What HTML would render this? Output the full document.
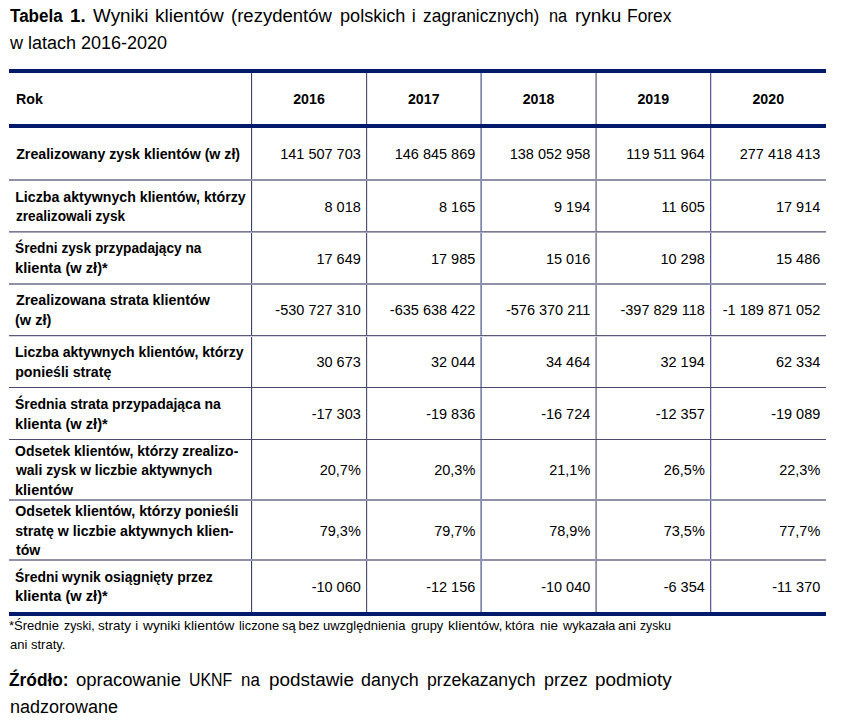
<!DOCTYPE html>
<html><head><meta charset="utf-8"><style>
html,body{margin:0;padding:0;background:#fff;width:842px;height:723px;overflow:hidden}
body{position:relative;font-family:"Liberation Sans",sans-serif;color:#000}
.t div{position:absolute;font-size:14.2px;line-height:20px;white-space:nowrap}
.ln{position:absolute}
.title{position:absolute;left:10px;width:662px;font-size:18px;line-height:20px;white-space:nowrap;text-align:justify;text-align-last:justify}
.fn{position:absolute;left:10px;width:661px;font-size:13px;line-height:20px;white-space:nowrap}
</style></head><body>
<span style="position:absolute;left:9.7px;top:6px;font-size:18px;line-height:20px;white-space:nowrap;font-weight:bold;transform:scaleX(0.9464);transform-origin:0 0;">Tabela</span><span style="position:absolute;left:70.26px;top:6px;font-size:18px;line-height:20px;white-space:nowrap;font-weight:bold;transform:scaleX(1.0385);transform-origin:0 0;">1.</span><span style="position:absolute;left:93.3px;top:6px;font-size:18px;line-height:20px;white-space:nowrap;transform:scaleX(1.0481);transform-origin:0 0;">Wyniki</span><span style="position:absolute;left:155.24px;top:6px;font-size:18px;line-height:20px;white-space:nowrap;transform:scaleX(1.0578);transform-origin:0 0;">klientów</span><span style="position:absolute;left:231.07px;top:6px;font-size:18px;line-height:20px;white-space:nowrap;transform:scaleX(1.0289);transform-origin:0 0;">(rezydentów</span><span style="position:absolute;left:339.69px;top:6px;font-size:18px;line-height:20px;white-space:nowrap;transform:scaleX(1.0063);transform-origin:0 0;">polskich</span><span style="position:absolute;left:411.7px;top:6px;font-size:18px;line-height:20px;white-space:nowrap;">i</span><span style="position:absolute;left:423.04px;top:6px;font-size:18px;line-height:20px;white-space:nowrap;transform:scaleX(0.9605);transform-origin:0 0;">zagranicznych)</span><span style="position:absolute;left:548.79px;top:6px;font-size:18px;line-height:20px;white-space:nowrap;transform:scaleX(0.9105);transform-origin:0 0;">na</span><span style="position:absolute;left:574.65px;top:6px;font-size:18px;line-height:20px;white-space:nowrap;transform:scaleX(1.0524);transform-origin:0 0;">rynku</span><span style="position:absolute;left:627.43px;top:6px;font-size:18px;line-height:20px;white-space:nowrap;transform:scaleX(0.9667);transform-origin:0 0;">Forex</span>
<div class="title" style="top:33px;text-align-last:left">w latach 2016-2020</div>
<div class="ln" style="left:251px;width:1px;top:73px;height:539px;background:#40446a"></div><div class="ln" style="left:252px;width:1px;top:73px;height:539px;background:#e4e6f2"></div><div class="ln" style="left:366px;width:1px;top:73px;height:539px;background:#4f526f"></div><div class="ln" style="left:367px;width:1px;top:73px;height:539px;background:#e0e2ee"></div><div class="ln" style="left:480px;width:1px;top:73px;height:539px;background:#a3a9c9"></div><div class="ln" style="left:481px;width:1px;top:73px;height:539px;background:#7b86a8"></div><div class="ln" style="left:595px;width:1px;top:73px;height:539px;background:#a8aab9"></div><div class="ln" style="left:596px;width:1px;top:73px;height:539px;background:#8e90a2"></div><div class="ln" style="left:710px;width:1px;top:73px;height:539px;background:#5f5f88"></div><div class="ln" style="left:711px;width:1px;top:73px;height:539px;background:#cfd0f2"></div><div class="ln" style="left:9px;width:817px;top:179px;height:2px;background:#9090aa"></div><div class="ln" style="left:9px;width:817px;top:231px;height:1px;background:#7a7a98"></div><div class="ln" style="left:9px;width:817px;top:232px;height:1px;background:#a8a8c0"></div><div class="ln" style="left:9px;width:817px;top:283px;height:2px;background:#9090aa"></div><div class="ln" style="left:9px;width:817px;top:335px;height:1px;background:#5a5a7c"></div><div class="ln" style="left:9px;width:817px;top:336px;height:1px;background:#d4d4e2"></div><div class="ln" style="left:9px;width:817px;top:387px;height:1px;background:#48486c"></div><div class="ln" style="left:9px;width:817px;top:439px;height:1px;background:#4c4c6e"></div><div class="ln" style="left:9px;width:817px;top:499px;height:2px;background:#9090aa"></div><div class="ln" style="left:9px;width:817px;top:559px;height:2px;background:#9090aa"></div><div class="ln" style="left:9px;width:817px;top:69px;height:4px;background:#021a6c"></div><div class="ln" style="left:9px;width:817px;top:124px;height:4px;background:#021a6c"></div><div class="ln" style="left:9px;width:817px;top:612px;height:4px;background:#021a6c"></div>
<div class="t">
<div style="left:16px;top:89px"><b>Rok</b></div>
<div style="left:251.5px;width:115.0px;text-align:center;top:89px"><b>2016</b></div>
<div style="left:366.5px;width:114.5px;text-align:center;top:89px"><b>2017</b></div>
<div style="left:481px;width:115px;text-align:center;top:89px"><b>2018</b></div>
<div style="left:596px;width:114.5px;text-align:center;top:89px"><b>2019</b></div>
<div style="left:710.5px;width:115.5px;text-align:center;top:89px"><b>2020</b></div>
<div style="left:16.2px;top:144px"><b>Zrealizowany zysk klientów (w zł)</b></div>
<div style="right:481.2px;top:144px;text-align:right;font-size:14.5px">141 507 703</div>
<div style="right:366.7px;top:144px;text-align:right;font-size:14.5px">146 845 869</div>
<div style="right:251.7px;top:144px;text-align:right;font-size:14.5px">138 052 958</div>
<div style="right:137.2px;top:144px;text-align:right;font-size:14.5px">119 511 964</div>
<div style="right:21.7px;top:144px;text-align:right;font-size:14.5px">277 418 413</div>
<div style="left:15.2px;top:187px"><b>Liczba aktywnych klientów, którzy</b></div>
<div style="left:16.2px;top:206px;transform:scaleX(0.9605);transform-origin:0 0"><b>zrealizowali zysk</b></div>
<div style="right:481.2px;top:197px;text-align:right;font-size:14.5px">8 018</div>
<div style="right:366.7px;top:197px;text-align:right;font-size:14.5px">8 165</div>
<div style="right:251.7px;top:197px;text-align:right;font-size:14.5px">9 194</div>
<div style="right:137.2px;top:197px;text-align:right;font-size:14.5px">11 605</div>
<div style="right:21.7px;top:197px;text-align:right;font-size:14.5px">17 914</div>
<div style="left:15.23px;top:238px;transform:scaleX(0.9651);transform-origin:0 0"><b>Średni zysk przypadający na</b></div>
<div style="left:15.17px;top:258px;transform:scaleX(1.0315);transform-origin:0 0"><b>klienta (w zł)*</b></div>
<div style="right:481.2px;top:249px;text-align:right;font-size:14.5px">17 649</div>
<div style="right:366.7px;top:249px;text-align:right;font-size:14.5px">17 985</div>
<div style="right:251.7px;top:249px;text-align:right;font-size:14.5px">15 016</div>
<div style="right:137.2px;top:249px;text-align:right;font-size:14.5px">10 298</div>
<div style="right:21.7px;top:249px;text-align:right;font-size:14.5px">15 486</div>
<div style="left:16.2px;top:290px;transform:scaleX(1.0073);transform-origin:0 0"><b>Zrealizowana strata klientów</b></div>
<div style="left:15.18px;top:310px;transform:scaleX(1.0235);transform-origin:0 0"><b>(w zł)</b></div>
<div style="right:481.2px;top:300px;text-align:right;font-size:14.5px">-530 727 310</div>
<div style="right:366.7px;top:300px;text-align:right;font-size:14.5px">-635 638 422</div>
<div style="right:251.7px;top:300px;text-align:right;font-size:14.5px">-576 370 211</div>
<div style="right:137.2px;top:300px;text-align:right;font-size:14.5px">-397 829 118</div>
<div style="right:21.7px;top:300px;text-align:right;font-size:14.5px">-1 189 871 052</div>
<div style="left:15.21px;top:342px;transform:scaleX(0.9921);transform-origin:0 0"><b>Liczba aktywnych klientów, którzy</b></div>
<div style="left:15.2px;top:362px"><b>ponieśli stratę</b></div>
<div style="right:481.2px;top:352px;text-align:right;font-size:14.5px">30 673</div>
<div style="right:366.7px;top:352px;text-align:right;font-size:14.5px">32 044</div>
<div style="right:251.7px;top:352px;text-align:right;font-size:14.5px">34 464</div>
<div style="right:137.2px;top:352px;text-align:right;font-size:14.5px">32 194</div>
<div style="right:21.7px;top:352px;text-align:right;font-size:14.5px">62 334</div>
<div style="left:15.21px;top:394px;transform:scaleX(0.9851);transform-origin:0 0"><b>Średnia strata przypadająca na</b></div>
<div style="left:15.17px;top:414px;transform:scaleX(1.0315);transform-origin:0 0"><b>klienta (w zł)*</b></div>
<div style="right:481.2px;top:404px;text-align:right;font-size:14.5px">-17 303</div>
<div style="right:366.7px;top:404px;text-align:right;font-size:14.5px">-19 836</div>
<div style="right:251.7px;top:404px;text-align:right;font-size:14.5px">-16 724</div>
<div style="right:137.2px;top:404px;text-align:right;font-size:14.5px">-12 357</div>
<div style="right:21.7px;top:404px;text-align:right;font-size:14.5px">-19 089</div>
<div style="left:15.21px;top:441px;transform:scaleX(0.9858);transform-origin:0 0"><b>Odsetek klientów, którzy zrealizo-</b></div>
<div style="left:16.2px;top:460px;transform:scaleX(0.98);transform-origin:0 0"><b>wali zysk w liczbie aktywnych</b></div>
<div style="left:15.18px;top:480px;transform:scaleX(1.0232);transform-origin:0 0"><b>klientów</b></div>
<div style="right:481.2px;top:460px;text-align:right;font-size:14.5px">20,7%</div>
<div style="right:366.7px;top:460px;text-align:right;font-size:14.5px">20,3%</div>
<div style="right:251.7px;top:460px;text-align:right;font-size:14.5px">21,1%</div>
<div style="right:137.2px;top:460px;text-align:right;font-size:14.5px">26,5%</div>
<div style="right:21.7px;top:460px;text-align:right;font-size:14.5px">22,3%</div>
<div style="left:15.2px;top:501px"><b>Odsetek klientów, którzy ponieśli</b></div>
<div style="left:15.2px;top:521px"><b>stratę w liczbie aktywnych klien-</b></div>
<div style="left:16.2px;top:540px;transform:scaleX(0.996);transform-origin:0 0"><b>tów</b></div>
<div style="right:481.2px;top:521px;text-align:right;font-size:14.5px">79,3%</div>
<div style="right:366.7px;top:521px;text-align:right;font-size:14.5px">79,7%</div>
<div style="right:251.7px;top:521px;text-align:right;font-size:14.5px">78,9%</div>
<div style="right:137.2px;top:521px;text-align:right;font-size:14.5px">73,5%</div>
<div style="right:21.7px;top:521px;text-align:right;font-size:14.5px">77,7%</div>
<div style="left:15.22px;top:567px;transform:scaleX(0.9796);transform-origin:0 0"><b>Średni wynik osiągnięty przez</b></div>
<div style="left:15.17px;top:586px;transform:scaleX(1.0315);transform-origin:0 0"><b>klienta (w zł)*</b></div>
<div style="right:481.2px;top:577px;text-align:right;font-size:14.5px">-10 060</div>
<div style="right:366.7px;top:577px;text-align:right;font-size:14.5px">-12 156</div>
<div style="right:251.7px;top:577px;text-align:right;font-size:14.5px">-10 040</div>
<div style="right:137.2px;top:577px;text-align:right;font-size:14.5px">-6 354</div>
<div style="right:21.7px;top:577px;text-align:right;font-size:14.5px">-11 370</div>
</div>
<span style="position:absolute;left:9.0px;top:616px;font-size:13px;line-height:20px;white-space:nowrap;">*Średnie</span><span style="position:absolute;left:64.1px;top:616px;font-size:13px;line-height:20px;white-space:nowrap;transform:scaleX(0.9438);transform-origin:0 0;">zyski,</span><span style="position:absolute;left:98.46px;top:616px;font-size:13px;line-height:20px;white-space:nowrap;transform:scaleX(1.0355);transform-origin:0 0;">straty</span><span style="position:absolute;left:135.3px;top:616px;font-size:13px;line-height:20px;white-space:nowrap;">i</span><span style="position:absolute;left:143.4px;top:616px;font-size:13px;line-height:20px;white-space:nowrap;transform:scaleX(1.0543);transform-origin:0 0;">wyniki</span><span style="position:absolute;left:184.13px;top:616px;font-size:13px;line-height:20px;white-space:nowrap;transform:scaleX(1.0739);transform-origin:0 0;">klientów</span><span style="position:absolute;left:238.51px;top:616px;font-size:13px;line-height:20px;white-space:nowrap;transform:scaleX(0.9897);transform-origin:0 0;">liczone</span><span style="position:absolute;left:281.9px;top:616px;font-size:13px;line-height:20px;white-space:nowrap;">są</span><span style="position:absolute;left:298.5px;top:616px;font-size:13px;line-height:20px;white-space:nowrap;">bez</span><span style="position:absolute;left:323.0px;top:616px;font-size:13px;line-height:20px;white-space:nowrap;">uwzględnienia</span><span style="position:absolute;left:410.7px;top:616px;font-size:13px;line-height:20px;white-space:nowrap;transform:scaleX(0.9939);transform-origin:0 0;">grupy</span><span style="position:absolute;left:447.81px;top:616px;font-size:13px;line-height:20px;white-space:nowrap;transform:scaleX(1.0896);transform-origin:0 0;">klientów,</span><span style="position:absolute;left:505.48px;top:616px;font-size:13px;line-height:20px;white-space:nowrap;transform:scaleX(1.0179);transform-origin:0 0;">która</span><span style="position:absolute;left:539.66px;top:616px;font-size:13px;line-height:20px;white-space:nowrap;transform:scaleX(1.0375);transform-origin:0 0;">nie</span><span style="position:absolute;left:562.7px;top:616px;font-size:13px;line-height:20px;white-space:nowrap;transform:scaleX(0.9778);transform-origin:0 0;">wykazała</span><span style="position:absolute;left:618.06px;top:616px;font-size:13px;line-height:20px;white-space:nowrap;transform:scaleX(1.0437);transform-origin:0 0;">ani</span><span style="position:absolute;left:640.3px;top:616px;font-size:13px;line-height:20px;white-space:nowrap;transform:scaleX(0.9333);transform-origin:0 0;">zysku</span>
<div class="fn" style="top:635px">ani straty.</div>
<span style="position:absolute;left:9.3px;top:670px;font-size:18px;line-height:20px;white-space:nowrap;font-weight:bold;transform:scaleX(0.9617);transform-origin:0 0;">Źródło:</span><span style="position:absolute;left:75.97px;top:670px;font-size:18px;line-height:20px;white-space:nowrap;transform:scaleX(1.028);transform-origin:0 0;">opracowanie</span><span style="position:absolute;left:188.92px;top:670px;font-size:18px;line-height:20px;white-space:nowrap;transform:scaleX(0.8812);transform-origin:0 0;">UKNF</span><span style="position:absolute;left:241.16px;top:670px;font-size:18px;line-height:20px;white-space:nowrap;transform:scaleX(0.9368);transform-origin:0 0;">na</span><span style="position:absolute;left:268.85px;top:670px;font-size:18px;line-height:20px;white-space:nowrap;transform:scaleX(1.0494);transform-origin:0 0;">podstawie</span><span style="position:absolute;left:361.01px;top:670px;font-size:18px;line-height:20px;white-space:nowrap;transform:scaleX(0.9929);transform-origin:0 0;">danych</span><span style="position:absolute;left:427.32px;top:670px;font-size:18px;line-height:20px;white-space:nowrap;transform:scaleX(0.9771);transform-origin:0 0;">przekazanych</span><span style="position:absolute;left:543.71px;top:670px;font-size:18px;line-height:20px;white-space:nowrap;transform:scaleX(0.9929);transform-origin:0 0;">przez</span><span style="position:absolute;left:594.55px;top:670px;font-size:18px;line-height:20px;white-space:nowrap;transform:scaleX(1.05);transform-origin:0 0;">podmioty</span>
<div class="title" style="top:697px;text-align-last:left">nadzorowane</div>
</body></html>
